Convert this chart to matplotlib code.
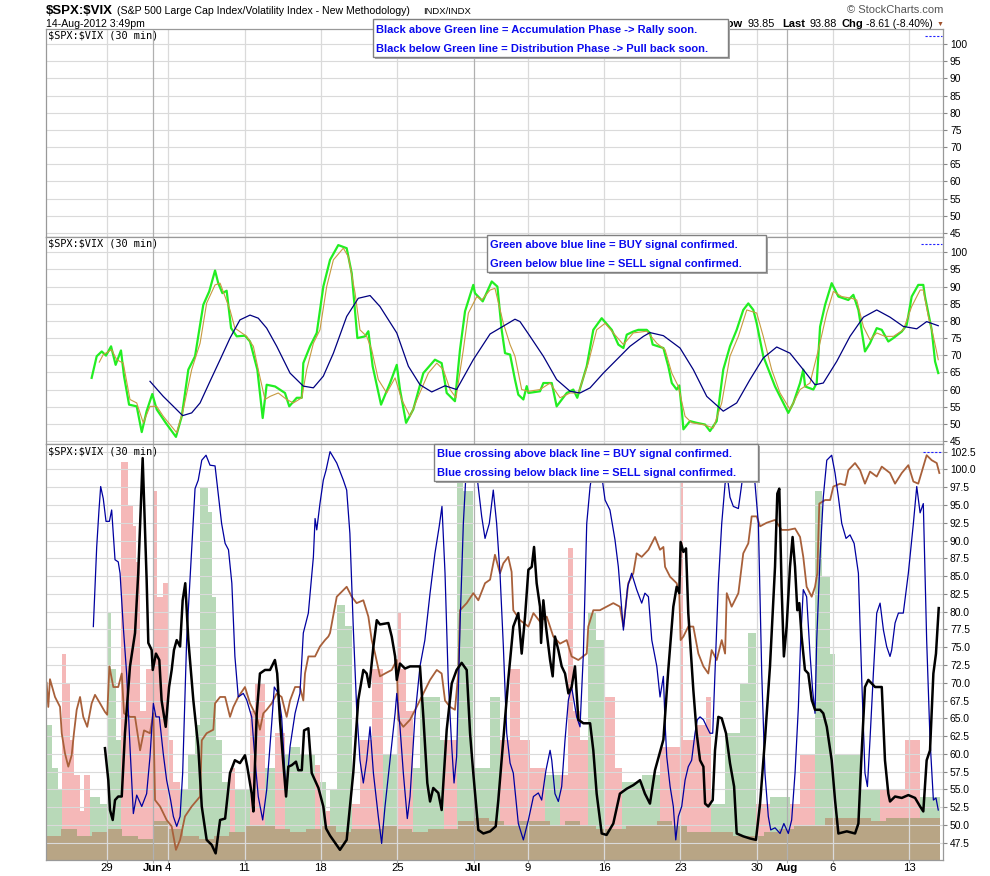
import numpy as np
import matplotlib
matplotlib.use("Agg")
import matplotlib.pyplot as plt
from matplotlib.patches import Rectangle

plt.rcParams['font.family'] = ['Liberation Sans', 'DejaVu Sans']

# x values are trading days counted from the open of 22 May 2012
tick_days = [4, 7, 8, 13, 18, 23, 28, 31.54, 36.54, 41.54, 46.54, 48.54, 51.54, 56.54]
tick_names = ['29', 'Jun', '4', '11', '18', '25', 'Jul', '9', '16', '23', '30', 'Aug', '6', '13']
month_names = ['Jun', 'Jul', 'Aug']

##### middle panel #####
green = [(2.99, 63.4), (3.32, 69.7), (3.65, 71.1), (3.93, 69.9), (4.26, 72.6), (4.56, 67.2), (4.91, 71.4),
         (5.11, 63.9), (5.44, 55.6), (5.94, 55.1), (6.27, 47.6), (6.59, 53.7), (6.96, 58.7), (7.25, 54.2),
         (7.84, 50.3), (8.51, 46.2), (8.89, 52.2), (9.32, 65.8), (9.76, 69.7), (10.30, 84.7), (10.69, 88.6),
         (11.07, 94.7), (11.28, 91), (11.55, 88.1), (11.83, 88.8), (12.12, 77.9), (12.49, 75.5), (13.03, 75.7),
         (13.36, 74), (13.84, 65.8), (14.19, 51.7), (14.45, 61.4), (15.00, 60.9), (15.65, 59), (15.93, 55.1),
         (16.42, 57.6), (16.75, 57.6), (16.85, 67.7), (17.29, 72.6), (17.73, 76.5), (18.16, 90), (18.60, 97.8),
         (19.14, 102.1), (19.69, 101.2), (20.02, 93.9), (20.39, 75), (20.89, 75.5), (21.11, 77), (21.39, 66.8),
         (21.94, 55.6), (22.53, 61.9), (22.97, 67.2), (23.18, 60), (23.58, 50.3), (24.05, 54.2), (24.71, 64.8),
         (25.47, 68.7), (25.91, 67.7), (26.24, 59), (26.78, 56.6), (27.11, 71.6), (27.44, 82.8), (27.98, 90.5),
         (28.09, 88.1), (28.60, 85.7), (29.19, 91.5), (29.56, 90), (29.84, 77.4), (30.06, 70.6), (30.39, 70.2),
         (30.71, 62.9), (30.93, 58.5), (31.26, 57.1), (31.48, 61), (31.59, 59), (32.35, 59.5), (32.57, 61.9),
         (33.12, 61.9), (33.44, 55.1), (34.10, 59), (34.53, 60), (34.79, 57.6), (35.41, 66.8), (35.84, 77.4),
         (36.39, 80.8), (37.05, 77.4), (37.48, 73.1), (37.81, 72.1), (38.03, 76), (38.46, 76.9), (38.79, 77.4),
         (39.34, 77.4), (39.55, 76.5), (39.73, 73.1), (40.43, 72.1), (40.75, 66.8), (40.98, 61.9), (41.30, 60),
         (41.47, 61.2), (41.63, 54.2), (41.74, 48.4), (42.17, 50.8), (42.61, 50.3), (43.16, 49.8), (43.48, 47.9),
         (43.92, 50.8), (44.35, 65.8), (44.79, 72.6), (45.23, 77.4), (45.66, 83.2), (45.99, 85.1), (46.32, 83.2),
         (46.54, 79.3), (46.97, 69.7), (47.74, 60.9), (48.28, 56.1), (48.61, 53.2), (48.94, 56.1), (49.38, 61.9),
         (49.59, 65.8), (49.71, 60.9), (50.25, 60), (50.47, 61.9), (50.69, 78.3), (51.02, 84.7), (51.45, 91),
         (51.89, 87.1), (52.54, 86.1), (52.87, 87.6), (53.20, 83.2), (53.63, 71.1), (53.96, 73.5), (54.40, 77.9),
         (54.73, 77.4), (55.16, 74), (55.49, 75), (56.04, 76.9), (56.36, 78.8), (56.69, 87.1), (57.12, 90.5),
         (57.45, 90.5), (57.56, 87.1), (58.00, 77.4), (58.22, 68.2), (58.43, 64.8)]

tan = [(3.49, 68), (3.75, 70.2), (4.30, 71.6), (4.63, 68.7), (5.06, 67.7), (5.50, 57.1), (5.94, 56.1),
       (6.37, 50.3), (6.81, 55.1), (7.25, 55.1), (7.68, 52.2), (8.56, 47.4), (8.99, 54.2), (9.54, 65.8),
       (10.09, 73.5), (10.52, 85.2), (11.07, 90.5), (11.40, 91), (12.05, 83.2), (12.37, 77.9), (13.14, 75.5),
       (13.58, 72.6), (13.90, 65.8), (14.34, 57.1), (14.67, 58), (15.21, 59), (15.76, 57.1), (16.20, 56.1),
       (16.75, 57.6), (17.07, 65.8), (17.51, 73.5), (17.94, 77.4), (18.38, 90), (18.82, 97.8), (19.47, 101.2),
       (19.80, 98.7), (20.24, 88.1), (20.56, 77.4), (21.00, 75.5), (21.33, 71.6), (21.76, 62.9), (22.31, 59),
       (22.86, 63.4), (23.29, 57.1), (23.84, 52.2), (24.38, 58), (25.04, 64.8), (25.59, 67.7), (26.02, 65.8),
       (26.46, 60), (26.85, 57.6), (27.33, 71.6), (27.66, 82.3), (28.21, 87.1), (28.53, 86.1), (29.08, 89),
       (29.40, 89.5), (29.95, 79.3), (30.39, 73.1), (30.71, 69.7), (31.15, 60), (31.59, 59.5), (32.35, 60),
       (33.01, 61.9), (33.66, 57.6), (34.32, 59), (34.86, 59), (35.51, 67.7), (36.06, 77.4), (36.61, 79.3),
       (37.15, 76.5), (37.81, 73.1), (38.46, 76.5), (39.34, 77), (40.00, 73.5), (40.54, 71.6), (40.98, 64.8),
       (41.41, 60.9), (41.85, 52.2), (42.29, 50.3), (43.05, 49.8), (43.70, 48.8), (44.25, 56.1), (44.79, 69.7),
       (45.34, 75.5), (45.89, 83.2), (46.54, 82.3), (46.97, 75.5), (47.52, 65.8), (48.07, 59), (48.72, 54.2),
       (49.38, 60), (50.03, 61.9), (50.58, 71.6), (51.13, 82.3), (51.56, 88.6), (52.11, 87.1), (52.76, 86.6),
       (53.09, 86.1), (53.53, 78.3), (53.96, 74.5), (54.40, 76.5), (54.94, 75.5), (55.49, 75.5), (56.14, 77.4),
       (56.69, 84.2), (57.24, 89), (57.45, 89), (57.78, 81.3), (58.11, 75.5), (58.43, 68.7)]

navy = [(6.81, 62.4), (7.68, 58), (8.34, 55.1), (8.95, 52.4), (9.54, 53.2), (10.09, 56.1), (10.74, 62.4),
        (11.40, 68.7), (12.05, 75), (12.70, 80.3), (13.36, 81.7), (13.90, 80.8), (14.45, 77.9), (15.11, 72.6),
        (15.98, 64.8), (16.85, 61), (17.51, 60.5), (18.16, 63.9), (18.82, 70.6), (19.69, 81.3), (20.45, 86.6),
        (21.22, 87.4), (21.87, 84.2), (22.97, 76.5), (23.73, 66.8), (24.49, 61.4), (25.26, 59.3), (26.13, 61.1),
        (26.89, 60), (27.98, 68.7), (29.08, 76.2), (29.73, 77.9), (30.71, 80.5), (31.04, 79.8), (31.70, 75.5),
        (32.57, 69.7), (33.44, 62.9), (34.32, 59.5), (34.97, 59), (35.63, 60.5), (36.50, 64.8), (37.37, 68.7),
        (38.24, 72.6), (39.12, 75.5), (39.55, 76.6), (40.43, 75.7), (41.52, 72.1), (42.39, 65.8), (43.27, 58),
        (44.35, 53.7), (45.23, 56.1), (46.10, 62.9), (46.97, 69.2), (47.85, 72.4), (48.72, 70.6), (49.59, 65.8),
        (50.36, 61.4), (50.90, 61.9), (51.78, 68.2), (52.65, 75.5), (53.53, 81.1), (54.40, 83.2), (55.27, 81.1),
        (56.14, 78.4), (57.02, 77.7), (57.67, 79.8), (58.43, 78.6)]

##### bottom panel #####
price = [(0.04, 70), (0.15, 66.6), (0.26, 70.5), (0.59, 68), (0.92, 66.6), (1.03, 62.9), (1.24, 60.1),
         (1.46, 58.2), (1.68, 59.8), (1.83, 62.9), (2.01, 66.2), (2.23, 68), (2.44, 65.2), (2.70, 63.8),
         (2.99, 67.1), (3.21, 68.3), (3.54, 67.1), (3.86, 65.9), (4.01, 65.5), (4.15, 72.3), (4.41, 69.4),
         (4.73, 69.4), (4.96, 71.3), (5.11, 65.7), (5.50, 65.2), (5.83, 65.2), (6.16, 60.5), (6.42, 63.3),
         (6.81, 62.9), (7.03, 65.7), (7.14, 53.5), (7.47, 52.6), (7.90, 50.7), (8.23, 49.8), (8.51, 46.5),
         (8.78, 47.9), (9.10, 51.2), (9.54, 52.6), (10.09, 54), (10.20, 61.9), (10.52, 62.9), (10.96, 63.4),
         (11.07, 67.1), (11.40, 68), (11.73, 68), (12.05, 65.2), (12.27, 66.6), (12.59, 68), (13.03, 69.4),
         (13.36, 67.1), (13.80, 65.2), (14.01, 63.4), (14.23, 65.7), (14.45, 66.2), (14.78, 67.1), (15.11, 68.5),
         (15.43, 68), (15.76, 65.2), (15.98, 67.5), (16.31, 69.4), (16.63, 69.4), (16.85, 67.5), (16.96, 71.3),
         (17.18, 73.7), (17.62, 73.7), (17.94, 75.1), (18.27, 76), (18.49, 76.5), (18.60, 77), (19.04, 82.1),
         (19.69, 83.5), (20.02, 82.1), (20.34, 81.2), (20.78, 81.6), (21.11, 79.3), (21.33, 76), (21.55, 74.1),
         (21.87, 70.9), (22.20, 71.3), (22.64, 71.8), (22.97, 73.2), (23.07, 64.8), (23.40, 63.8), (23.84, 64.8),
         (24.27, 66.6), (24.71, 68.5), (25.15, 70.4), (25.59, 71.8), (25.91, 71.3), (26.13, 67.5), (26.46, 66.6),
         (26.78, 66.2), (27.00, 71.3), (27.11, 80.2), (27.55, 81.2), (27.98, 82.6), (28.31, 81.6), (28.75, 84),
         (29.08, 84.5), (29.40, 88), (29.73, 85.4), (29.95, 86.8), (30.27, 87.7), (30.49, 85.6), (30.60, 80.2),
         (31.04, 78.8), (31.59, 77.9), (31.92, 79.8), (32.35, 78.6), (32.79, 79.3), (33.22, 76.5), (33.66, 75.5),
         (34.10, 76), (34.42, 73.7), (34.86, 73.2), (35.41, 74.1), (35.51, 77.9), (35.84, 80.2), (36.27, 80.2),
         (36.71, 80.7), (37.15, 81.2), (37.58, 80.7), (37.81, 77.9), (38.13, 84), (38.46, 85.4), (38.68, 88.2),
         (39.01, 87.7), (39.45, 88.7), (39.88, 90.5), (40.21, 88.7), (40.43, 89.1), (40.54, 86.3), (40.87, 84.9),
         (41.30, 84), (41.47, 82.6), (41.56, 76), (41.74, 76.5), (42.06, 77.9), (42.39, 77.9), (42.72, 74.1),
         (43.05, 72.3), (43.37, 71.3), (43.59, 74.6), (43.92, 73.2), (44.25, 76), (44.47, 74.1), (44.58, 82.6),
         (44.90, 80.7), (45.34, 82.6), (45.66, 88.2), (45.99, 89.6), (46.21, 93.4), (46.54, 93.4), (46.76, 92),
         (47.19, 92.5), (47.74, 92.9), (48.17, 91.5), (48.61, 91.5), (49.05, 91.7), (49.38, 90.5), (49.59, 87.7),
         (49.81, 83.5), (50.14, 82.1), (50.36, 83.5), (50.51, 85.4), (50.64, 95.2), (51.02, 95.7), (51.35, 95.7),
         (51.56, 97.6), (52.00, 98), (52.33, 97.8), (52.54, 99.9), (52.98, 100.9), (53.31, 99.9), (53.63, 98),
         (53.96, 99.7), (54.40, 99), (54.73, 100.4), (55.27, 99.5), (55.60, 98), (56.04, 99.5), (56.47, 100.6),
         (56.80, 98.3), (57.12, 98), (57.45, 100.4), (57.67, 102), (58.00, 101.3), (58.33, 100.9), (58.50, 99.5)]

blue = [(3.10, 77.9), (3.32, 89.1), (3.47, 94.3), (3.58, 97.6), (3.75, 95.9), (3.93, 92.7), (4.15, 92.7),
        (4.30, 94.3), (4.52, 87.3), (4.73, 87), (4.85, 85.4), (5.06, 77.9), (5.28, 71.3), (5.50, 61), (5.72, 51.6),
        (5.94, 54.2), (6.27, 52.6), (6.59, 54.4), (6.81, 59.6), (7.03, 67.1), (7.20, 65.2), (7.42, 65.2),
        (7.68, 60), (7.90, 56.3), (8.16, 53.5), (8.34, 51.2), (8.56, 49.8), (8.78, 51.2), (8.95, 57.3),
        (9.21, 76), (9.54, 88.7), (9.76, 97.3), (9.97, 98.5), (10.20, 101.3), (10.48, 102), (10.74, 100.6),
        (11.07, 100.5), (11.28, 96.6), (11.50, 92.4), (11.73, 89.6), (11.95, 88.7), (12.17, 84), (12.37, 73.7),
        (12.59, 68), (12.92, 68.5), (13.14, 67.6), (13.47, 65.2), (13.69, 59.1), (13.90, 54), (14.19, 50.7),
        (14.45, 54.9), (14.78, 64.3), (14.95, 69.4), (15.21, 68.5), (15.43, 65.2), (15.72, 54.4), (15.98, 61),
        (16.31, 65.7), (16.63, 68.5), (16.85, 77), (17.18, 79.8), (17.51, 87.7), (17.62, 93.1), (17.73, 91.5),
        (17.94, 95.2), (18.16, 98.5), (18.34, 99.9), (18.60, 102.5), (19.04, 100.9), (19.47, 98.5),
        (19.69, 97.1), (19.90, 91), (20.12, 77.9), (20.34, 66.6), (20.56, 59.1), (20.78, 55.9), (21.00, 59.1),
        (21.22, 63.8), (21.44, 57.3), (21.76, 51.2), (21.98, 47.4), (22.20, 52.6), (22.53, 59.1), (22.86, 65.7),
        (22.97, 68.5), (23.18, 63.8), (23.40, 57.3), (23.66, 50.9), (23.84, 54), (24.16, 65.2), (24.49, 72.3),
        (24.81, 76), (25.15, 82.6), (25.47, 88.2), (25.75, 92), (25.93, 94.8), (26.13, 85.4), (26.34, 70.4),
        (26.57, 61), (26.72, 55.9), (26.89, 59.6), (27.11, 77.9), (27.33, 92.4), (27.55, 101.3), (27.90, 103.5),
        (28.20, 99.5), (28.53, 93.4), (28.75, 90.3), (29.03, 92.4), (29.29, 97.1), (29.51, 92.4), (29.73, 85.4),
        (29.95, 75.1), (30.17, 62.9), (30.39, 58.7), (30.60, 57.3), (30.93, 50.2), (31.26, 47.9), (31.59, 50.7),
        (31.92, 54), (32.24, 54.5), (32.46, 53.5), (32.74, 57.7), (33.01, 60.5), (33.12, 59.1), (33.33, 54.4),
        (33.55, 53.3), (33.77, 55.4), (33.99, 62), (34.21, 67.6), (34.42, 69.4), (34.75, 65.2), (34.97, 63.8),
        (35.19, 74.1), (35.41, 92.4), (35.63, 97.6), (35.84, 100.4), (36.10, 103), (36.40, 99), (36.61, 95.7),
        (36.93, 94.3), (37.26, 90.1), (37.48, 86.3), (37.81, 77.4), (38.09, 83.5), (38.35, 85.4), (38.68, 83.1),
        (39.01, 81.2), (39.22, 82.6), (39.45, 82.1), (39.67, 76), (40.00, 72.3), (40.21, 68), (40.43, 70.9),
        (40.54, 64.3), (40.65, 59.6), (40.87, 55.4), (41.08, 52.6), (41.24, 47.9), (41.41, 51.2), (41.63, 52.6),
        (41.85, 56.3), (42.06, 58.2), (42.28, 59.1), (42.50, 62.9), (42.65, 64.8), (42.83, 65.2), (43.05, 64.8),
        (43.27, 63.8), (43.48, 62.9), (43.66, 62.9), (43.81, 71.3), (44.03, 84), (44.25, 92.4), (44.47, 98),
        (44.62, 99), (44.79, 96.1), (45.01, 94.8), (45.34, 94.5), (45.66, 99.5), (45.89, 100.4), (46.21, 99.9),
        (46.43, 98), (46.65, 92.4), (46.87, 71.3), (47.08, 57.3), (47.30, 51.2), (47.46, 49.3), (47.74, 49.6),
        (48.07, 48.8), (48.32, 50.2), (48.61, 48.8), (48.83, 50.7), (49.05, 57.3), (49.27, 66.6), (49.42, 76),
        (49.59, 83.1), (49.81, 82.1), (50.03, 74.1), (50.20, 69), (50.36, 65.7), (50.47, 76), (50.69, 87.7),
        (50.90, 96.1), (51.13, 101.3), (51.45, 102), (51.67, 99.5), (51.89, 96.1), (52.11, 92.4), (52.39, 90.3),
        (52.65, 90.8), (52.92, 89.6), (53.20, 85.4), (53.42, 70.4), (53.63, 57.3), (53.79, 55.4), (53.96, 62),
        (54.18, 71.3), (54.40, 79.8), (54.62, 81.2), (54.84, 77.4), (55.05, 75.1), (55.27, 73.7), (55.38, 74.6),
        (55.60, 78.4), (55.82, 79.8), (56.14, 79.8), (56.47, 85.4), (56.80, 92.4), (57.02, 97.6), (57.24, 93.9),
        (57.45, 95.2), (57.67, 76), (57.89, 62), (58.11, 53.5), (58.28, 53.8), (58.43, 52.1)]

black = [(3.86, 60.8), (4.08, 56.3), (4.19, 52.1), (4.37, 50.7), (4.52, 53.5), (4.73, 54), (4.96, 54),
         (5.17, 62.9), (5.50, 72.3), (5.83, 77), (6.04, 85.4), (6.33, 101.6), (6.59, 84.5), (6.70, 75.6),
         (6.92, 74.6), (6.99, 71.8), (7.20, 74.1), (7.42, 73.2), (7.57, 67.5), (7.84, 63.8), (8.06, 69.4),
         (8.23, 71.8), (8.38, 74.6), (8.56, 76), (8.78, 75.1), (8.95, 81.6), (9.12, 84), (9.32, 76), (9.65, 67.5),
         (9.97, 61), (10.20, 52.6), (10.52, 47.9), (10.85, 47.2), (11.11, 46), (11.40, 50.7), (11.73, 50.9),
         (12.05, 57.3), (12.37, 59.1), (12.70, 58.7), (13.03, 59.8), (13.18, 58.2), (13.47, 54.4), (13.58, 51.9),
         (13.80, 65.7), (14.01, 71.3), (14.34, 71.8), (14.67, 71.8), (14.99, 73.2), (15.14, 71.3), (15.32, 64.8),
         (15.54, 58.7), (15.72, 54), (15.87, 58.2), (16.09, 58.4), (16.37, 58.9), (16.52, 57.7), (16.75, 57.7),
         (16.90, 63.3), (17.18, 63.6), (17.40, 57.3), (17.84, 55.2), (18.16, 52.6), (18.34, 49.5), (18.60, 48.5),
         (19.25, 46.5), (19.69, 47.9), (20.12, 57.3), (20.45, 67.6), (20.78, 71.8), (21.00, 71.3), (21.17, 69.4),
         (21.44, 75.1), (21.66, 78.8), (21.87, 78.2), (22.42, 78.4), (22.64, 76.5), (22.86, 73.7), (22.97, 70.4),
         (23.18, 72.7), (23.51, 72), (23.84, 72.3), (24.49, 72.3), (24.71, 65.2), (24.97, 55.9), (25.15, 53.3),
         (25.36, 55.2), (25.69, 54.5), (25.91, 52.1), (26.24, 63.4), (26.57, 69.9), (26.89, 71.8), (27.22, 72.8),
         (27.55, 71.8), (27.77, 62.9), (27.98, 57.3), (28.31, 49.3), (28.64, 48.8), (29.08, 49.1), (29.45, 49.8),
         (29.62, 53.5), (29.95, 62), (30.27, 70.4), (30.60, 77.9), (30.93, 79.8), (31.15, 74.1), (31.37, 79.3),
         (31.59, 85.9), (31.81, 86.3), (31.96, 89.1), (32.13, 84), (32.35, 80.7), (32.42, 75.6), (32.57, 81.6),
         (32.74, 77.9), (33.01, 73.2), (33.18, 70.9), (33.33, 76.5), (33.55, 74.6), (33.77, 72.3), (33.99, 71.3),
         (34.21, 68.5), (34.42, 69.4), (34.64, 72.3), (34.86, 64.8), (35.19, 64.3), (35.63, 64.3), (35.84, 60.5),
         (36.06, 54.4), (36.39, 48.8), (36.71, 48.6), (37.15, 50.2), (37.58, 54.4), (38.03, 55.1), (38.46, 55.6),
         (38.90, 56.3), (39.22, 54.4), (39.55, 53), (39.88, 57.7), (40.21, 60.3), (40.43, 62), (40.75, 71.8),
         (41.08, 80.7), (41.30, 83.5), (41.47, 82.6), (41.56, 89.8), (41.74, 88.4), (41.91, 88.9), (42.06, 79.8),
         (42.39, 69), (42.61, 62.9), (42.83, 59.1), (43.05, 58.2), (43.16, 53), (43.37, 52.6), (43.66, 53.5),
         (43.81, 60.5), (44.03, 65.2), (44.25, 65), (44.53, 62.9), (44.79, 58.7), (45.06, 55.4), (45.23, 48.8),
         (45.66, 48.4), (46.10, 48.1), (46.49, 47.9), (46.76, 53), (47.08, 62), (47.41, 72.3), (47.74, 86.3),
         (47.89, 96.6), (48.02, 97.3), (48.17, 83.5), (48.32, 73.7), (48.50, 77.9), (48.72, 86.3), (48.89, 90.5),
         (49.05, 86.3), (49.20, 80.2), (49.33, 81.2), (49.48, 76.5), (49.70, 71.8), (49.92, 71.3), (50.14, 67.6),
         (50.36, 66.2), (50.69, 66.2), (50.90, 65.7), (51.13, 63.8), (51.45, 59.1), (51.67, 53.5), (51.89, 48.8),
         (52.44, 49.1), (52.98, 48.8), (53.20, 50.2), (53.42, 60.5), (53.63, 69.4), (53.85, 70.4), (54.29, 69.4),
         (54.73, 69.4), (54.94, 59.1), (55.16, 54.4), (55.27, 53.3), (55.60, 54), (56.04, 53.8), (56.47, 54.2),
         (56.91, 53.8), (57.24, 52.6), (57.45, 51.9), (57.67, 59.1), (57.89, 60.5), (58.11, 71.3), (58.28, 74.1),
         (58.46, 80.5)]

hist_edges = [0, 0.4, 0.8, 1.05, 1.3, 1.57, 1.83, 2.23, 2.49, 2.88, 3.54, 3.99, 4.26, 4.58, 4.91, 5.37, 5.7,
              5.9, 6.16, 6.55, 7.0, 7.27, 7.66, 7.99, 8.32, 8.78, 9.3, 9.76, 10.08, 10.61, 10.87, 11.13, 11.53,
              12.05, 12.37, 13.36, 13.69, 14.34, 14.99, 15.65, 15.98, 16.63, 17.62, 17.94, 18.34, 18.6, 19.06,
              19.58, 20.04, 20.56, 21.35, 22.07, 22.99, 23.25, 23.58, 24.03, 24.49, 25.8, 26.06, 26.92, 27.31,
              27.96, 29.08, 29.73, 30.39, 31.04, 31.7, 32.68, 33.66, 34.18, 34.51, 34.97, 35.49, 36.02, 36.61,
              37.26, 37.72, 39.0, 40.21, 41.52, 41.72, 42.5, 43.22, 43.55, 44.47, 45.45, 45.97, 46.5, 47.41,
              48.72, 49.38, 50.36, 50.82, 51.34, 51.67, 53.31, 54.62, 56.25, 57.24, 58.55]
hist_top = [64, 58, 55, 74, 70, 62, 57, 52, 57, 54, 53, 80, 72, 62, 101, 95, 92, 87, 66, 72, 97, 82, 84, 62,
            56, 55, 60, 64, 97.5, 94, 82, 62, 56, 58, 55, 66, 70, 58, 63, 60, 61, 60, 58.5, 56, 52,
            55, 81, 78, 53, 62, 72, 60, 80, 72, 66, 58, 68, 62, 62, 100, 97, 58, 68, 62, 72, 62, 58, 57, 57,
            89, 66, 62, 80, 76, 68, 58, 56, 57,
            61, 102.5, 62, 64, 68, 53, 63, 70, 77, 53, 54, 53, 60, 97, 85, 74, 60, 55, 55, 62, 54]
hist_side = ("GGGRRRRRRGGGGGRRRRRRRRRRRGGGGGGGGRGRRGRGGGRGR"
             "GGGRRRGRRRGGGRGGGGRRRRGRRRRGGRRGG"
             "RRRRRGGGGRGRRGGGGGRRG")

vol_top = [48.5, 49.5, 48.5, 49, 49.5, 48.5, 48, 50.5, 49.5, 48.5,
           48, 48.5, 49, 50, 50, 49.5, 49, 49.5, 50, 49,
           49.5, 49.5, 50, 49.5, 49, 49.5, 49.5, 50.5, 51, 50.5,
           50, 50.5, 50.5, 50, 50.5, 50, 49.5, 49.5, 50, 50,
           50.5, 50, 49, 49, 49, 48.5, 48.5, 49, 49.5, 50,
           50, 51, 51, 51, 50.5, 51, 51, 51, 51]

W, H = 990, 876
XMAX = 58.74
fig = plt.figure(figsize=(W / 100, H / 100), dpi=100)


def fx(x):
    return x / W


def fy(y):
    return 1 - y / H


def panel(top, bottom, ylim, yticks, fmt, labels=False):
    ax = fig.add_axes([fx(46), fy(bottom), fx(943) - fx(46), (bottom - top) / H])
    ax.set_xlim(0, XMAX)
    ax.set_ylim(*ylim)
    ax.set_yticks(yticks)
    ax.set_yticklabels([fmt % v for v in yticks])
    ax.yaxis.tick_right()
    ax.tick_params(axis='y', labelsize=7.4, length=3, color='#888888', pad=2)
    ax.yaxis.grid(True, color='#dadada', lw=0.8)
    ax.set_axisbelow(True)
    for d, name in zip(tick_days, tick_names):
        ax.axvline(d, color='#b0b0b0' if name in month_names else '#dadada', lw=0.9, zorder=0.6)
    ax.set_xticks(tick_days)
    if labels:
        ax.set_xticklabels(tick_names)
        ax.tick_params(axis='x', labelsize=8.2, length=2, color='#b0b0b0', pad=0.5)
        for t in ax.get_xticklabels():
            if t.get_text() in month_names:
                t.set_fontweight('bold')
    else:
        ax.tick_params(axis='x', labelbottom=False, length=0)
    for s in ax.spines.values():
        s.set_color('#999999')
        s.set_linewidth(0.9)
    ax.text(0.002, 0.995, r"\$SPX:\$VIX (30 min)", transform=ax.transAxes, va='top', ha='left',
            family='DejaVu Sans Mono', fontsize=7.4, zorder=5)
    return ax


ax1 = panel(29, 237, (43.84, 104.37), list(range(45, 101, 5)), "%d")
ax1.plot([0.98, 0.999], [0.966, 0.966], transform=ax1.transAxes, color='#2020ff', lw=0.8, ls=(0, (2, 1.5)))

ax2 = panel(237, 444, (44.13, 104.46), list(range(45, 101, 5)), "%d")
ax2.plot([0.975, 0.999], [0.966, 0.966], transform=ax2.transAxes, color='#2020ff', lw=0.8, ls=(0, (2, 1.5)))
ax2.plot(*zip(*green), color='#22ee22', lw=1.6, zorder=2)
ax2.plot(*zip(*tan), color='#c89a40', lw=0.8, zorder=2.5)
ax2.plot(*zip(*navy), color='#000080', lw=0.9, zorder=3)

ax3 = panel(444, 860, (45.07, 103.58), [47.5 + 2.5 * i for i in range(23)], "%.1f", labels=True)
ymin = ax3.get_ylim()[0]
left = np.array(hist_edges[:-1])
widths = np.diff(hist_edges)
tops = np.array(hist_top)
cols = ['#b8d9b8' if c == 'G' else '#f5b8b8' for c in hist_side]
ax3.bar(left, tops - ymin, width=widths, bottom=ymin, align='edge', color=cols, lw=0, zorder=0.2)
vol_edges = np.append(np.arange(len(vol_top)), 58.55)
ax3.stairs(vol_top, vol_edges, baseline=ymin, fill=True, color='#b8a585', lw=0, zorder=0.4)
ax3.plot(*zip(*price), color='#a8603a', lw=1.3, zorder=2)
ax3.plot(*zip(*blue), color='#0000a0', lw=0.9, zorder=2.5)
ax3.plot(*zip(*black), color='black', lw=1.8, zorder=3)
ax3.plot([0.978, 0.999], [0.981, 0.981], transform=ax3.transAxes, color='#2020ff', lw=0.8, ls=(0, (2, 1.5)))

##### header #####
fig.text(fx(46), fy(11), r"\$SPX:\$VIX", fontsize=9.5, fontweight='bold', va='center')
fig.text(fx(117), fy(11), "(S&P 500 Large Cap Index/Volatility Index - New Methodology)", fontsize=7.6, va='center')
fig.text(fx(423), fy(11), "INDX/INDX", fontsize=6.8, va='center')
fig.text(fx(46), fy(24), "14-Aug-2012 3:49pm", fontsize=7.6, va='center')
fig.text(fx(943), fy(10), "\u00a9 StockCharts.com", fontsize=8, color='#555555', ha='right', va='center')
quote = [(720, "Low", 'bold', 8), (748, "93.85", 'normal', 7.8), (782, "Last", 'bold', 8),
         (809, "93.88", 'normal', 7.8), (842, "Chg", 'bold', 8), (866, "-8.61 (-8.40%)", 'normal', 7.5)]
for x, s, w, size in quote:
    fig.text(fx(x), fy(24), s, fontsize=size, fontweight=w, va='center')
fig.text(fx(940), fy(24), "\u25bc", fontsize=5, color='#a0522d', ha='center', va='center')


def note(x0, y0, x1, y1, lines):
    shadow = Rectangle((fx(x0 + 2), fy(y1 + 2)), fx(x1) - fx(x0), (y1 - y0) / H, transform=fig.transFigure,
                       facecolor='#a8a8a8', edgecolor='none', zorder=8)
    box = Rectangle((fx(x0), fy(y1)), fx(x1) - fx(x0), (y1 - y0) / H, transform=fig.transFigure,
                    facecolor='white', edgecolor='#808080', lw=1, zorder=9)
    fig.add_artist(shadow)
    fig.add_artist(box)
    step = (y1 - y0) / 2
    for i, s in enumerate(lines):
        fig.text(fx(x0 + 3), fy(y0 + step * (i + 0.5) + 1), s, color='#0a0aee', fontweight='bold',
                 fontsize=8, va='center', zorder=10)


note(372.7, 19.3, 727.7, 57, ["Black above Green line = Accumulation Phase -> Rally soon.",
                              "Black below Green line = Distribution Phase -> Pull back soon."])
note(487.3, 234.7, 766, 272, ["Green above blue line = BUY signal confirmed.",
                              "Green below blue line = SELL signal confirmed."])
note(434, 444, 757.7, 481, ["Blue crossing above black line = BUY signal confirmed.",
                            "Blue crossing below black line = SELL signal confirmed."])

fig.savefig("out.png", dpi=100)
